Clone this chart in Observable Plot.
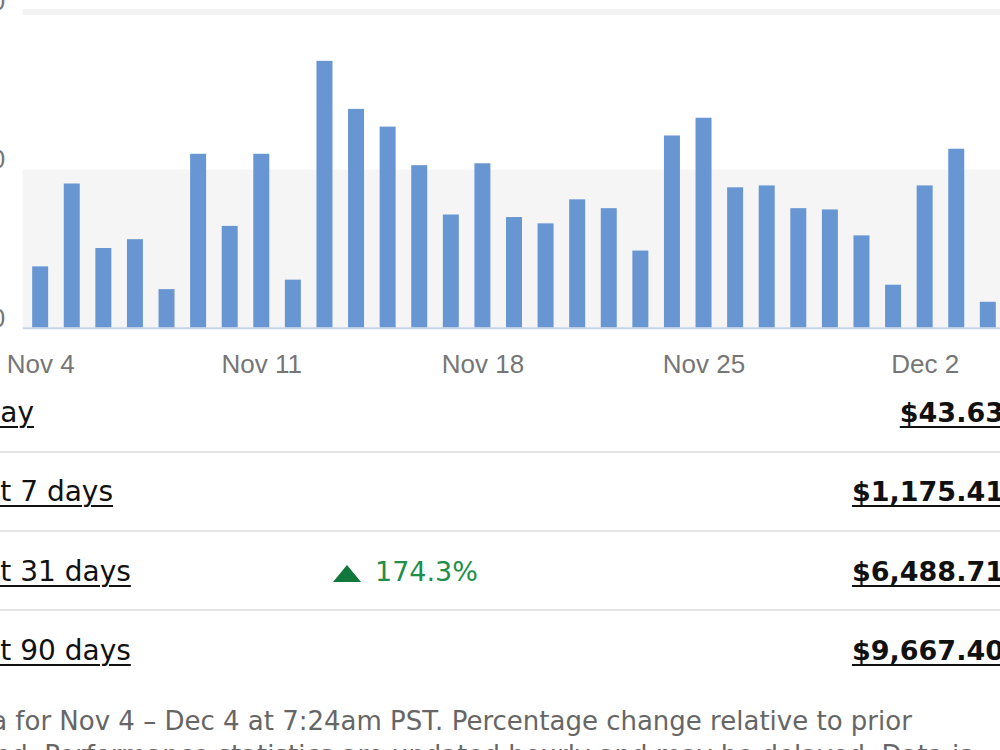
<!DOCTYPE html>
<html>
<head>
<meta charset="utf-8">
<script src="https://cdn.jsdelivr.net/npm/d3@7"></script>
<script src="https://cdn.jsdelivr.net/npm/@observablehq/plot@0.6"></script>
<style>
  html, body { margin: 0; padding: 0; background: #fff; }
  #page { position: relative; width: 1000px; height: 750px; overflow: hidden; background: #fff; }
  #chart { position: absolute; left: -100px; top: -40px; width: 1140px; }
  #chart svg { max-width: none !important; }
  .row { position: absolute; left: -47px; width: 1051px; height: 40px; line-height: 40px; }
  .lbl { position: absolute; left: 0; top: 0; font-family: "DejaVu Sans", sans-serif; font-size: 28px; color: #111; text-decoration: underline; text-underline-offset: 4px; text-decoration-thickness: 2px; white-space: nowrap; }
  .val { position: absolute; right: 0; top: 0; font-family: "DejaVu Sans", sans-serif; font-weight: bold; font-size: 27px; color: #111; text-decoration: underline; text-underline-offset: 4px; text-decoration-thickness: 2px; white-space: nowrap; }
  .sep { position: absolute; left: 0; width: 1000px; height: 2px; background: #e5e5e5; }
  #pct { position: absolute; left: 333px; top: 552px; height: 40px; line-height: 40px; font-family: "DejaVu Sans", sans-serif; font-size: 27px; color: #1f8f4a; white-space: nowrap; }
  #tri { display: inline-block; width: 0; height: 0; border-left: 14px solid transparent; border-right: 14px solid transparent; border-bottom: 17px solid #11773a; margin-right: 14px; vertical-align: -1px; }
  #foot { position: absolute; left: -55px; top: 704px; width: 1053px; font-family: "DejaVu Sans", sans-serif; font-size: 26px; line-height: 34px; color: #666; }
</style>
</head>
<body>
<div id="page">
  <div id="chart"></div>
</div>
<script>
// ---- data ----
const days = ["Nov 4","Nov 5","Nov 6","Nov 7","Nov 8","Nov 9","Nov 10","Nov 11","Nov 12","Nov 13",
  "Nov 14","Nov 15","Nov 16","Nov 17","Nov 18","Nov 19","Nov 20","Nov 21","Nov 22","Nov 23",
  "Nov 24","Nov 25","Nov 26","Nov 27","Nov 28","Nov 29","Nov 30","Dec 1","Dec 2","Dec 3","Dec 4"];
const sales = [97, 228, 126, 140, 61, 275, 161, 275, 76, 422,
  346, 318, 257, 179, 260, 175, 165, 203, 189, 122,
  304, 332, 222, 225, 189, 187, 146, 68, 225, 283, 41];
const xTicks = ["Nov 4","Nov 11","Nov 18","Nov 25","Dec 2"];
const yTicks = [0, 250, 500];
const rowLabels = ["Today","Last 7 days","Last 31 days","Last 90 days"];
const rowValues = ["$43.63","$1,175.41","$6,488.71","$9,667.40"];
const change31 = "174.3%";
const footnote = "Data for Nov 4 – Dec 4 at 7:24am PST. Percentage change relative to prior period. Performance statistics are updated hourly and may be delayed. Data is subject to change.";

const table = days.map((d, i) => ({day: d, value: sales[i]}));
const bands = [{lo: yTicks[0], hi: yTicks[1]}];

const chart = Plot.plot({
  width: 1140,
  height: 438,
  marginLeft: 122.7,
  marginRight: 34.7,
  marginTop: 51.5,
  marginBottom: 70.3,
  style: {fontFamily: "'Liberation Sans', Arial, sans-serif", fontSize: "26px", background: "transparent", overflow: "visible", maxWidth: "none"},
  x: {type: "band", domain: days, paddingInner: 0.494, paddingOuter: 0.30, round: false, label: null},
  y: {domain: [0, 500], label: null},
  marks: [
    Plot.rect(bands, {y1: "lo", y2: "hi", fill: "#f5f5f5"}),
    Plot.ruleY([yTicks[2]], {stroke: "#f2f2f2", strokeWidth: 6}),
    Plot.barY(table, {x: "day", y: "value", fill: "#6896d3"}),
    Plot.ruleY([0], {stroke: "#c9d4ea", strokeWidth: 2}),
    Plot.axisY({ticks: yTicks, tickSize: 0, tickPadding: 18, dy: -10, tickFormat: d => "$" + d, fill: "#767676", fontSize: 26, label: null}),
    Plot.axisX({ticks: xTicks, tickSize: 0, tickPadding: 26, fill: "#767676", fontSize: 26, label: null})
  ]
});
document.getElementById("chart").appendChild(chart);

const page = document.getElementById("page");
const centers = [413, 492, 572, 651];
const seps = [451, 530, 609];
seps.forEach(y => {
  const s = document.createElement("div");
  s.className = "sep"; s.style.top = y + "px";
  page.appendChild(s);
});
rowLabels.forEach((t, i) => {
  const r = document.createElement("div");
  r.className = "row"; r.style.top = (centers[i] - 20) + "px";
  const l = document.createElement("span"); l.className = "lbl"; l.textContent = t;
  const v = document.createElement("span"); v.className = "val"; v.textContent = rowValues[i];
  r.appendChild(l); r.appendChild(v);
  page.appendChild(r);
});
const pct = document.createElement("div");
pct.id = "pct";
pct.innerHTML = '<span id="tri"></span>';
pct.appendChild(document.createTextNode(change31));
page.appendChild(pct);
const foot = document.createElement("div");
foot.id = "foot"; foot.textContent = footnote;
page.appendChild(foot);
</script>
</body>
</html>
